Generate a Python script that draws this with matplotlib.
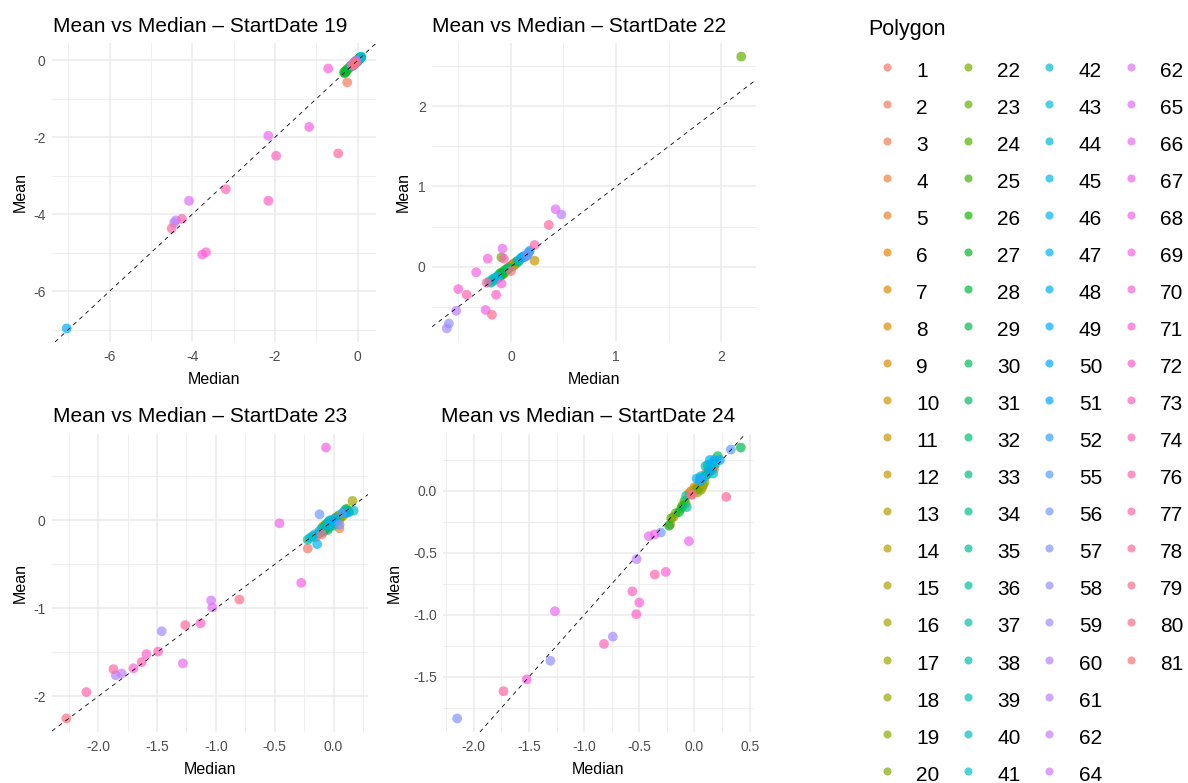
import numpy as np
import matplotlib
matplotlib.use("Agg")
import matplotlib.pyplot as plt
from matplotlib.ticker import MultipleLocator, AutoMinorLocator, FormatStrFormatter

plt.rcParams['font.family'] = ['Liberation Sans', 'DejaVu Sans']
plt.rcParams['axes.unicode_minus'] = False

W, H = 1188, 783

# legend levels (column-major, as in the legend)
LEVELS = ["1", "2", "3", "4", "5", "6", "7", "8", "9", "10",
          "11", "12", "13", "14", "15", "16", "17", "18", "19", "20",
          "22", "23", "24", "25", "26", "27", "28", "29", "30", "31",
          "32", "33", "34", "35", "36", "37", "38", "39", "40", "41",
          "42", "43", "44", "45", "46", "47", "48", "49", "50", "51",
          "52", "55", "56", "57", "58", "59", "60", "61", "62", "64",
          "62", "65", "66", "67", "68", "69", "70", "71", "72", "73",
          "74", "76", "77", "78", "79", "80", "81"]

# ---- StartDate 19 ----
poly_19 = ["70", "2", "69", "66", "73", "78", "74", "72", "65", "61", "60", "76", "77", "68", "71", "49",
           "25", "27", "28", "26", "6", "7", "8", "24", "9", "10", "30", "5", "55", "56", "57", "79",
           "80", "58", "1", "3", "4", "11", "12", "81", "67", "13", "14", "15", "16", "17", "18", "19",
           "20", "22", "23", "29", "31", "32", "33", "34", "35", "36", "37", "38", "39", "40", "41", "42",
           "43", "44", "45", "46", "47", "48", "50", "51", "52"]
median_19 = [-0.71, -0.25, -1.17, -2.16, -1.97, -0.47, -3.19, -2.16, -4.08, -4.40, -4.44, -4.25, -4.50, -3.76, -3.67, -7.04,
             -0.33, -0.31, -0.29, -0.28, -0.27, -0.25, -0.24, -0.22, -0.20, -0.19, -0.17, -0.16, -0.14, -0.13, -0.12, -0.11,
             -0.10, -0.09, -0.08, -0.07, -0.06, -0.05, -0.04, -0.04, -0.03, -0.02, -0.01, 0.00, 0.00, 0.01, 0.01, 0.02,
             0.02, 0.03, 0.03, 0.04, 0.04, 0.05, 0.05, 0.06, 0.06, 0.07, 0.07, 0.08, 0.08, 0.09, 0.09, -0.02,
             -0.03, -0.01, 0.00, -0.06, -0.05, -0.08, -0.10, -0.07, -0.04]
mean_19 = [-0.21, -0.57, -1.73, -1.96, -2.48, -2.42, -3.35, -3.65, -3.65, -4.16, -4.22, -4.12, -4.37, -5.05, -4.99, -6.97,
           -0.31, -0.33, -0.27, -0.30, -0.25, -0.24, -0.22, -0.21, -0.19, -0.17, -0.16, -0.14, -0.13, -0.11, -0.12, -0.14,
           -0.09, -0.07, -0.10, -0.05, -0.06, -0.03, -0.02, -0.06, -0.01, 0.00, 0.01, 0.01, -0.01, 0.02, 0.00, 0.03,
           0.01, 0.04, 0.02, 0.05, 0.03, 0.06, 0.04, 0.05, 0.07, 0.06, 0.08, 0.07, 0.09, 0.08, 0.10, -0.04,
           -0.03, -0.02, -0.03, -0.04, -0.07, -0.06, -0.12, -0.09, -0.05]

# ---- StartDate 22 ----
poly_22 = ["23", "65", "60", "78", "74", "11", "66", "22", "73", "69", "68", "70", "76", "72", "71", "77",
           "67", "79", "61", "58", "59", "80",
           "36", "37", "38", "39", "40", "41", "42", "43", "44", "25", "26", "27", "28", "15", "16", "17",
           "18", "19", "29", "30", "31", "32", "1", "3", "4", "5", "6", "7", "8", "2", "12", "33",
           "34", "35", "45", "46", "47", "48", "49", "50", "51", "55", "56", "52", "13", "14", "9", "10",
           "20", "24"]
median_22 = [2.19, 0.425, 0.48, 0.36, 0.225, 0.225, -0.08, -0.09, -0.067, -0.22, -0.33, -0.50, -0.42, -0.14, -0.09, -0.23,
             -0.24, -0.18, -0.52, -0.59, -0.61, 0.00,
             -0.21, -0.19, -0.18, -0.17, -0.16, -0.15, -0.14, -0.13, -0.12, -0.11, -0.10, -0.10, -0.09, -0.08, -0.08, -0.07,
             -0.06, -0.05, -0.05, -0.04, -0.03, -0.02, -0.01, 0.00, 0.01, 0.02, 0.02, 0.03, 0.04, 0.05, 0.05, 0.06,
             0.07, 0.08, 0.09, 0.10, 0.11, 0.12, 0.13, 0.15, 0.17, 0.14, 0.16, 0.18, -0.02, 0.01, -0.03, 0.03,
             -0.06, -0.07]
mean_22 = [2.62, 0.716, 0.65, 0.52, 0.27, 0.075, 0.225, 0.116, 0.10, 0.10, -0.07, -0.28, -0.35, -0.35, -0.21, -0.20,
           -0.54, -0.60, -0.55, -0.71, -0.77, -0.055,
           -0.19, -0.20, -0.16, -0.18, -0.15, -0.14, -0.16, -0.12, -0.14, -0.10, -0.12, -0.08, -0.09, -0.10, -0.07, -0.06,
           -0.07, -0.04, -0.05, -0.03, -0.04, -0.01, 0.00, 0.01, 0.02, 0.01, 0.03, 0.04, 0.03, 0.06, 0.04, 0.07,
           0.06, 0.08, 0.10, 0.11, 0.12, 0.13, 0.12, 0.14, 0.18, 0.13, 0.15, 0.20, -0.02, 0.00, -0.02, 0.02,
           -0.05, -0.09]

# ---- StartDate 23 ----
poly_23 = ["69", "67", "68", "79", "64", "65", "72", "78", "59", "73", "71", "66", "74", "70", "77", "60",
           "61", "76", "80",
           "1", "38", "43", "47", "56", "17", "42", "40", "41", "2", "3", "44", "45", "35", "81", "9",
           "10", "27", "28", "29", "30", "31", "46", "48", "32", "33", "11", "12", "34", "49", "50", "6",
           "7", "8", "13", "14", "57", "55", "15", "36", "37", "25", "26", "16", "39", "51", "22", "23",
           "24", "4", "5"]
median_23 = [-0.065, -0.46, -0.275, -0.80, -1.04, -1.03, -1.13, -1.26, -1.46, -1.49, -1.59, -1.28, -1.63, -1.70, -1.87, -1.85,
             -1.80, -2.10, -2.27,
             -0.22, -0.22, -0.18, -0.14, -0.12, 0.16, 0.17, -0.20, -0.16, -0.15, -0.13, -0.12, -0.11, -0.10, -0.10, -0.09,
             -0.08, -0.08, -0.07, -0.06, -0.05, -0.05, -0.04, -0.04, -0.03, -0.02, -0.01, 0.00, 0.00, 0.01, 0.02, 0.02,
             0.03, 0.04, 0.05, 0.05, 0.05, 0.07, 0.08, 0.09, 0.10, 0.11, 0.12, 0.13, 0.13, 0.10, 0.06, 0.04,
             -0.03, -0.09, 0.05]
mean_23 = [0.826, -0.034, -0.71, -0.90, -0.91, -0.99, -1.17, -1.19, -1.26, -1.49, -1.52, -1.625, -1.61, -1.68, -1.69, -1.76,
           -1.74, -1.95, -2.25,
           -0.32, -0.22, -0.18, -0.27, 0.068, 0.22, 0.11, -0.20, -0.16, -0.19, -0.15, -0.12, -0.14, -0.09, -0.16, -0.07,
           -0.08, -0.12, -0.05, -0.09, -0.03, -0.11, -0.01, -0.06, 0.00, -0.04, -0.02, 0.01, -0.06, 0.02, -0.01, 0.03,
           0.04, 0.02, 0.00, 0.06, -0.05, 0.08, 0.05, 0.10, 0.12, 0.13, 0.11, 0.10, 0.09, 0.08, 0.04, 0.05,
           -0.07, -0.13, -0.09]

# ---- StartDate 24 ----
poly_24 = ["57", "77", "69", "58", "66", "74", "59", "72", "70", "73", "76", "71", "61", "67", "65", "68",
           "56", "78", "29", "55",
           "27", "6", "7", "28", "26", "36", "37", "79", "8", "14", "15", "47", "48", "38", "35", "49",
           "2", "3", "39", "30", "50", "40", "9", "10", "11", "12", "13", "16", "17", "18", "19", "31",
           "32", "33", "34", "41", "42", "43", "44", "45", "46", "51", "52", "1", "4", "5", "20", "22",
           "23", "24", "25", "80"]
median_24 = [-2.15, -1.73, -1.52, -1.305, -1.264, -0.82, -0.74, -0.527, -0.50, -0.563, -0.36, -0.26, -0.524, -0.05, -0.413, -0.36,
             -0.305, 0.288, 0.42, 0.33,
             -0.23, -0.22, -0.19, -0.14, -0.11, -0.07, -0.075, -0.02, 0.00, 0.04, 0.07, 0.02, 0.05, 0.07, 0.10, 0.14,
             0.16, 0.11, 0.17, 0.21, 0.23, 0.19, -0.05, -0.03, 0.01, 0.03, 0.05, 0.06, 0.08, 0.09, 0.03, 0.10,
             0.12, 0.13, 0.15, 0.16, 0.05, 0.06, 0.08, 0.12, 0.18, 0.14, 0.06, 0.17, 0.18, -0.08, -0.17, -0.12,
             0.02, -0.21, -0.09, -0.03]
mean_24 = [-1.835, -1.615, -1.52, -1.37, -0.97, -1.234, -1.175, -0.994, -0.90, -0.81, -0.674, -0.653, -0.55, -0.405, -0.365, -0.35,
           -0.335, -0.048, 0.35, 0.334,
           -0.28, -0.27, -0.21, -0.17, -0.12, -0.13, -0.04, -0.03, 0.03, 0.02, 0.03, 0.10, 0.08, 0.10, 0.20, 0.25,
           0.17, 0.15, 0.14, 0.28, 0.25, 0.22, -0.02, 0.00, 0.02, 0.04, 0.05, 0.01, 0.05, 0.07, -0.01, 0.12,
           0.14, 0.18, 0.20, 0.22, 0.10, 0.12, 0.11, 0.21, 0.25, 0.16, 0.09, 0.19, 0.18, -0.10, -0.18, -0.14,
           0.01, -0.22, -0.08, -0.03]


def hue_pal(n):
    # ggplot2 default hue palette: hcl(h, c = 100, l = 65)
    h = np.deg2rad(np.linspace(15, 375, n + 1)[:-1])
    L, C = 65.0, 100.0
    U, V = C * np.cos(h), C * np.sin(h)
    Y = ((L + 16) / 116) ** 3
    u = U / (13 * L) + 0.1978398
    v = V / (13 * L) + 0.4683363
    X = 9 * Y * u / (4 * v)
    Z = Y * (12 - 3 * u - 20 * v) / (4 * v)
    r = 3.240479 * X - 1.537150 * Y - 0.498535 * Z
    g = -0.969256 * X + 1.875992 * Y + 0.041556 * Z
    b = 0.055648 * X - 0.204043 * Y + 1.057311 * Z
    rgb = np.stack([r, g, b], axis=1)
    rgb = np.where(rgb > 0.00304, 1.055 * np.abs(rgb) ** (1 / 2.4) - 0.055, 12.92 * rgb)
    return np.clip(rgb, 0, 1)


colors = hue_pal(len(LEVELS))
color_of, order_of = {}, {}
for i, lab in enumerate(LEVELS):
    color_of.setdefault(lab, colors[i])
    order_of.setdefault(lab, i)

fig = plt.figure(figsize=(W / 100, H / 100), dpi=100)


def box(l, t, r, b):
    return [l / W, 1 - b / H, (r - l) / W, (b - t) / H]


def to_axes(ax, x, y):
    return ax.transAxes.inverted().transform((x, H - y))


def draw_panel(rect, date, poly, med, mean, xstep, ystep, xfmt, yfmt,
               title_xy, xlab_xy, ylab_xy):
    ax = fig.add_axes(box(*rect))
    idx = np.argsort([order_of[p] for p in poly], kind="stable")
    med = np.asarray(med)[idx]
    mean = np.asarray(mean)[idx]
    cols = [color_of[poly[i]] for i in idx]
    ax.scatter(med, mean, c=cols, s=50, alpha=0.7, linewidths=0, zorder=3)
    ax.axline((0, 0), slope=1, color="black", lw=0.6, ls=(0, (5, 5)), zorder=4)
    ax.margins(0.05)

    ax.xaxis.set_major_locator(MultipleLocator(xstep))
    ax.yaxis.set_major_locator(MultipleLocator(ystep))
    ax.xaxis.set_minor_locator(AutoMinorLocator(2))
    ax.yaxis.set_minor_locator(AutoMinorLocator(2))
    ax.xaxis.set_major_formatter(FormatStrFormatter(xfmt))
    ax.yaxis.set_major_formatter(FormatStrFormatter(yfmt))
    ax.grid(which="major", color="#EBEBEB", lw=1.1, zorder=0)
    ax.grid(which="minor", color="#EBEBEB", lw=0.55, zorder=0)
    ax.set_axisbelow(True)
    for s in ax.spines.values():
        s.set_visible(False)
    ax.tick_params(which="both", length=0)
    ax.tick_params(axis="both", labelsize=10, labelcolor="#4D4D4D")
    ax.tick_params(axis="x", pad=5.5)
    ax.tick_params(axis="y", pad=4.5)

    tx, ty = to_axes(ax, *title_xy)
    ax.text(tx, ty, f"Mean vs Median \u2013 StartDate {date}", transform=ax.transAxes,
            ha="left", va="baseline", fontsize=15, color="black")
    ax.set_xlabel("Median", fontsize=11.5, va="baseline")
    ax.xaxis.set_label_coords(*to_axes(ax, *xlab_xy))
    ax.set_ylabel("Mean", fontsize=11.5, va="baseline")
    ax.yaxis.set_label_coords(*to_axes(ax, *ylab_xy))
    return ax


draw_panel((52, 43, 376, 342), "19", poly_19, median_19, mean_19, 2, 2, "%g", "%g",
           (53, 32.5), (214, 383.5), (25, 192.5))
draw_panel((432, 43, 756, 342), "22", poly_22, median_22, mean_22, 1, 1, "%g", "%g",
           (432.5, 32.5), (594, 383.5), (408, 192.5))
draw_panel((52, 434, 368, 732), "23", poly_23, median_23, mean_23, 0.5, 1, "%.1f", "%g",
           (53, 422.5), (210, 773.5), (25, 583))
draw_panel((443, 434, 755, 732), "24", poly_24, median_24, mean_24, 0.5, 0.5, "%.1f", "%.1f",
           (441, 422.5), (598, 773.5), (399, 583))

# legend, drawn in pixel space
lax = fig.add_axes([0, 0, 1, 1], zorder=-1)
lax.set_xlim(0, W)
lax.set_ylim(H, 0)
lax.axis("off")
lax.text(868, 35.5, "Polygon", fontsize=15.5, ha="left", va="baseline")
rows = 20
for i, lab in enumerate(LEVELS):
    c, r = divmod(i, rows)
    x = 886.7 + 81.3 * c
    y = 66.7 + 37.05 * r
    lax.scatter([x], [y], s=34, color=colors[i], alpha=0.7, linewidths=0)
    lax.text(x + 29.5, y + 10.0, lab, fontsize=15, ha="left", va="baseline")

fig.savefig("out.png", dpi=100)
